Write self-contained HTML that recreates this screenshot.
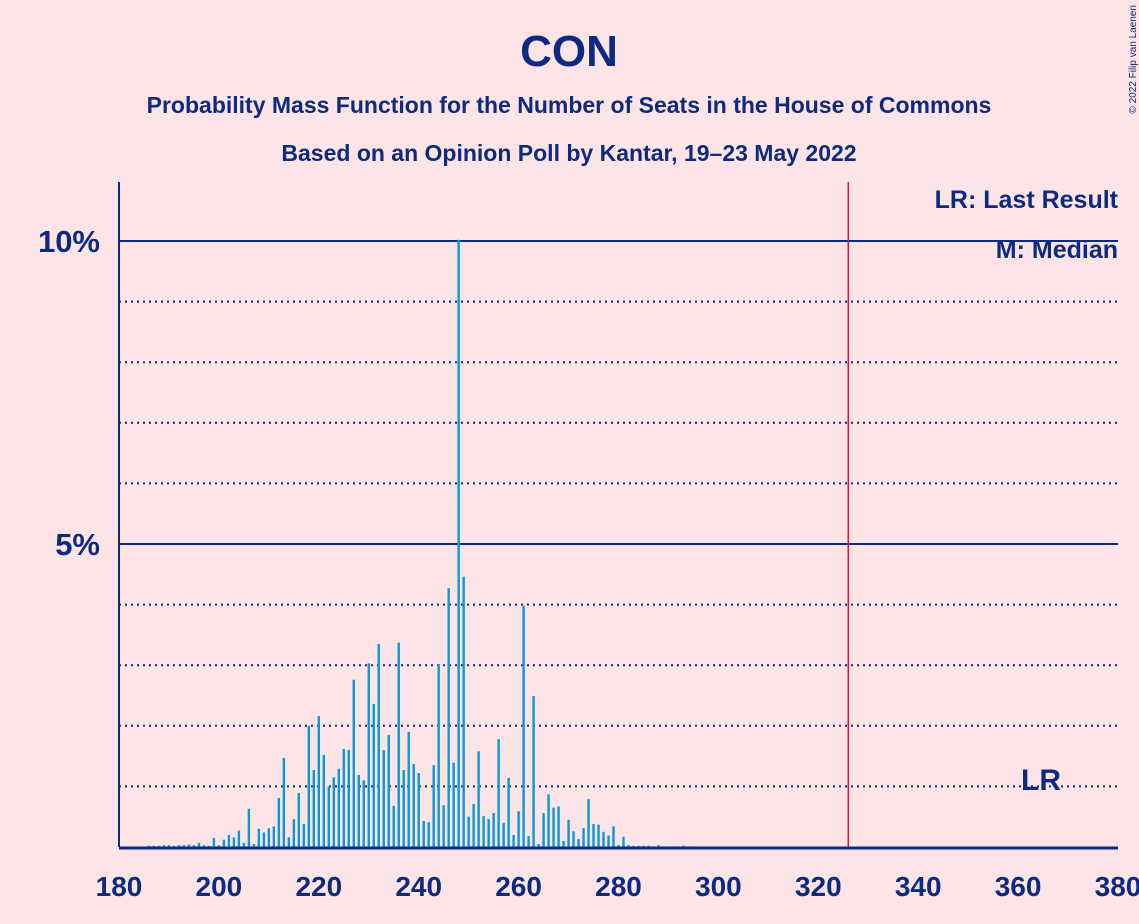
<!DOCTYPE html>
<html><head><meta charset="utf-8">
<style>
html,body{margin:0;padding:0;background:#fde4e7;}
svg{display:block;font-family:"Liberation Sans",sans-serif;}
</style></head>
<body>
<svg id="chart" width="1139" height="924" viewBox="0 0 1139 924" xmlns="http://www.w3.org/2000/svg">
<rect width="1139" height="924" fill="#fde4e7"/>
<text x="569" y="66" text-anchor="middle" font-size="44" font-weight="bold" fill="#0c2a80">CON</text>
<text x="569" y="113" text-anchor="middle" font-size="23" font-weight="bold" fill="#0c2a80">Probability Mass Function for the Number of Seats in the House of Commons</text>
<text x="569" y="161" text-anchor="middle" font-size="23" font-weight="bold" fill="#0c2a80">Based on an Opinion Poll by Kantar, 19–23 May 2022</text>
<text x="1136" y="5" transform="rotate(-90 1136 5)" text-anchor="end" font-size="10" fill="#0c2a80">© 2022 Filip van Laenen</text>
<g id="grid"></g>
<g id="bars"></g>
<g id="axes"></g>
<text x="1118" y="208" text-anchor="end" font-size="25" font-weight="bold" fill="#0c2a80">LR: Last Result</text>
<text x="1118" y="258" text-anchor="end" font-size="25" font-weight="bold" fill="#0c2a80">M: Median</text>
<text x="1041" y="790" text-anchor="middle" font-size="30" font-weight="bold" fill="#0c2a80">LR</text>
</svg>
<script>
const seats = [];
for (let s = 186; s <= 295; s++) seats.push(s);
const probs = [
0.02,0.02,0.02,0.03,0.03,0.02,0.03,0.03,0.04,0.03,0.07,0.03,0.02,0.15,0.03,0.12,0.2,0.16,0.27,0.07,
0.63,0.05,0.3,0.24,0.31,0.34,0.81,1.47,0.16,0.46,0.89,0.38,2.0,1.27,2.16,1.52,1.0,1.15,1.29,1.62,
1.6,2.76,1.19,1.1,3.03,2.36,3.35,1.6,1.85,0.68,3.37,1.27,1.9,1.37,1.22,0.43,0.41,1.35,3.02,
0.69,4.27,1.39,10.02,4.46,0.5,0.71,1.58,0.51,0.46,0.56,1.78,0.4,1.14,0.2,0.59,3.98,0.18,2.49,0.05,
0.56,0.87,0.65,0.67,0.1,0.45,0.26,0.13,0.31,0.79,0.38,0.37,0.25,0.19,0.34,0.03,0.17,0.03,0.02,0.02,
0.02,0.02,0.01,0.03,0.01,0.01,0.01,0.01,0.02,0.01,0.01
];
const xTicks = [180,200,220,240,260,280,300,320,340,360,380];
const yMajor = [5,10];
const yMinor = [1,2,3,4,6,7,8,9];
const yLabels = ["5%","10%"];
const majoritySeat = 326;

const NS = "http://www.w3.org/2000/svg";
const X0 = 119, X1 = 1118, Y0 = 847, Y10 = 241;
function xs(s){ return X0 + (s - 180) * (X1 - X0) / 200; }
function ys(p){ return Y0 - p * (Y0 - Y10) / 10; }
function mk(tag, attrs, parent){
  const e = document.createElementNS(NS, tag);
  for (const k in attrs) e.setAttribute(k, attrs[k]);
  parent.appendChild(e);
  return e;
}
const grid = document.getElementById('grid');
const bars = document.getElementById('bars');
const axes = document.getElementById('axes');

yMinor.forEach(v => {
  const l = mk('line', {x1:X0, x2:X1, y1:ys(v), y2:ys(v), stroke:'#0c2a80', 'stroke-width':2, 'stroke-dasharray':'2,4'}, grid);
  
  
});
yMajor.forEach((v,i) => {
  const l = mk('line', {x1:X0, x2:X1, y1:ys(v), y2:ys(v), stroke:'#0c2a80', 'stroke-width':2}, grid);
  
  
  const t = mk('text', {x:100, y:ys(v)+11, 'text-anchor':'end', 'font-size':31, 'font-weight':'bold', fill:'#0c2a80'}, axes);
  t.textContent = yLabels[i];
  
  
});

seats.forEach((s,i) => {
  const p = probs[i] || 0;
  const r = mk('rect', {x:xs(s)-1.2, y:ys(p), width:2.4, height:Math.max(0, Y0-ys(p)), fill:'#0a98d9'}, bars);
  
  
});

const ml = mk('line', {x1:xs(majoritySeat), x2:xs(majoritySeat), y1:182, y2:Y0, stroke:'#e0103a', 'stroke-width':1.5}, axes);



const ya = mk('line', {x1:X0, x2:X0, y1:182, y2:Y0, stroke:'#0c2a80', 'stroke-width':2}, axes);


const xa = mk('line', {x1:X0, x2:X1, y1:Y0+1, y2:Y0+1, stroke:'#0c2a80', 'stroke-width':3}, axes);



xTicks.forEach(v => {
  const t = mk('text', {x:xs(v), y:896, 'text-anchor':'middle', 'font-size':28, 'font-weight':'bold', fill:'#0c2a80'}, axes);
  t.textContent = String(v);
  
  
});
</script>
</body></html>
